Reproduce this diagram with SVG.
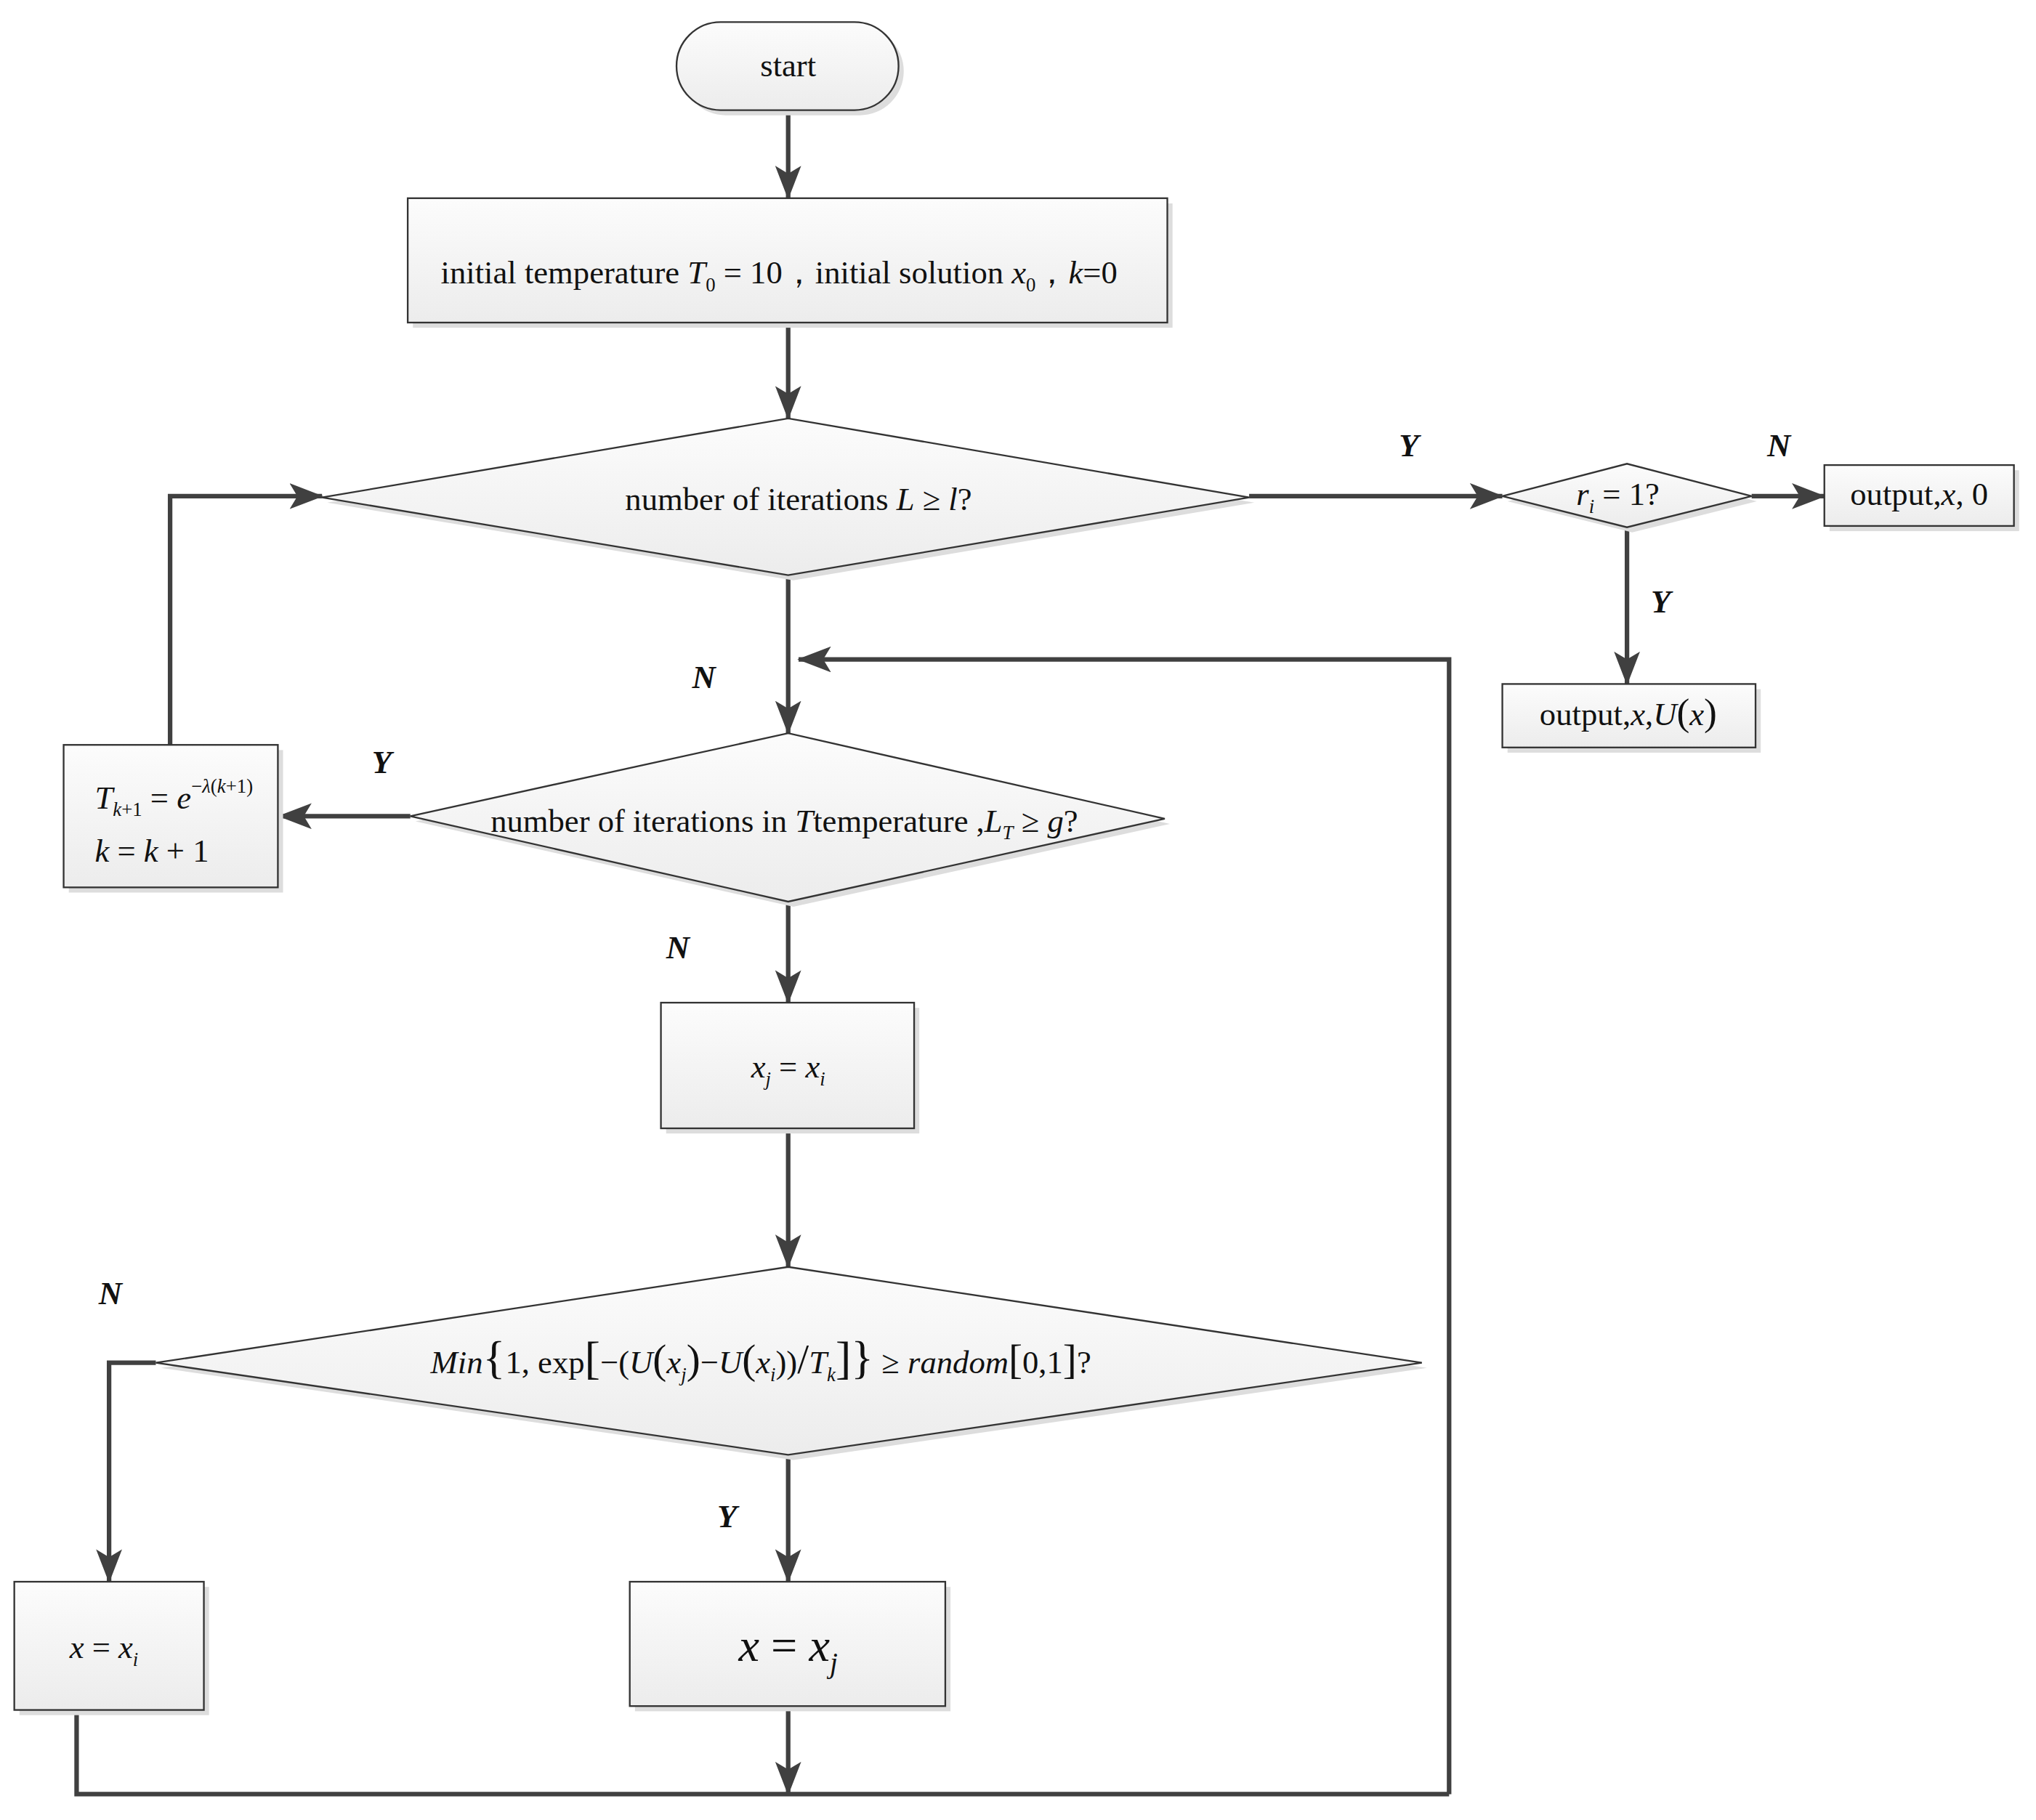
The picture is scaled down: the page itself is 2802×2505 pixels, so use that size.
<svg xmlns="http://www.w3.org/2000/svg" width="2802" height="2505" viewBox="0 0 2802 2505">
<style>
.n{fill:url(#gr);stroke:#333;stroke-width:1.3}
.sh{fill:#ddd;stroke:none}
text{font-family:"Liberation Serif",serif;font-size:25px;fill:#111}
.i{font-style:italic}
.lb{font-style:italic;font-weight:bold;font-size:25px}
.c{fill:none;stroke:#404040;stroke-width:3.5}
</style>
<defs>
<linearGradient id="gr" x1="0" y1="0" x2="0" y2="1"><stop offset="0" stop-color="#fcfcfc"/><stop offset="1" stop-color="#ececec"/></linearGradient>
<marker id="a" markerWidth="26" markerHeight="20" refX="25" refY="10" orient="auto" markerUnits="userSpaceOnUse" viewBox="0 0 26 20"><path d="M0,0 L26,10 L0,20 L6,10 z" fill="#404040"/></marker>
</defs>
<rect width="2802" height="2505" fill="#fff"/>
<g transform="scale(1.787,1.783)">
<g id="connectors">
<path class="c" d="M607,85 V153" marker-end="url(#a)"/>
<path class="c" d="M607,249 V323" marker-end="url(#a)"/>
<path class="c" d="M962,383 H1157" marker-end="url(#a)"/>
<path class="c" d="M1349,383 H1405" marker-end="url(#a)"/>
<path class="c" d="M1253,407 V528" marker-end="url(#a)"/>
<path class="c" d="M607,444 V566" marker-end="url(#a)"/>
<path class="c" d="M1116,1385 V509 H615" marker-end="url(#a)"/>
<path class="c" d="M316,630 H215" marker-end="url(#a)"/>
<path class="c" d="M131,575 V383 H248" marker-end="url(#a)"/>
<path class="c" d="M607,696 V774" marker-end="url(#a)"/>
<path class="c" d="M607,871 V978" marker-end="url(#a)"/>
<path class="c" d="M120,1052 H84 V1221" marker-end="url(#a)"/>
<path class="c" d="M607,1123 V1221" marker-end="url(#a)"/>
<path class="c" d="M607,1317 V1385" marker-end="url(#a)"/>
<path class="c" d="M59,1320 V1385 H1116"/>
<text class="lb" x="1085" y="352" text-anchor="middle">Y</text>
<text class="lb" x="1370" y="352" text-anchor="middle">N</text>
<text class="lb" x="1279" y="473" text-anchor="middle">Y</text>
<text class="lb" x="542" y="531" text-anchor="middle">N</text>
<text class="lb" x="294" y="597" text-anchor="middle">Y</text>
<text class="lb" x="522" y="740" text-anchor="middle">N</text>
<text class="lb" x="85" y="1007" text-anchor="middle">N</text>
<text class="lb" x="560" y="1179" text-anchor="middle">Y</text>
</g>
<g id="start"><rect class="sh" x="525" y="21" width="171" height="68" rx="34"/><rect class="n" x="521" y="17" width="171" height="68" rx="34"/><text x="607" y="59" text-anchor="middle">start</text></g>
<g id="init"><rect class="sh" x="318" y="157" width="585" height="96"/><rect class="n" x="314" y="153" width="585" height="96"/><text x="600" y="219" text-anchor="middle">initial temperature <tspan class="i">T</tspan><tspan font-size="15" dy="6">0</tspan><tspan dy="-6"> = 10，initial solution </tspan><tspan class="i">x</tspan><tspan font-size="15" dy="6">0</tspan><tspan dy="-6">，</tspan><tspan class="i">k</tspan>=0</text></g>
<g id="d1"><polygon class="sh" points="252,388 611,327 966,388 611,448"/><polygon class="n" points="248,384 607,323 962,384 607,444"/><text x="615" y="394" text-anchor="middle">number of iterations <tspan class="i">L</tspan> ≥ <tspan class="i">l</tspan>?</text></g>
<g id="dr"><polygon class="sh" points="1161,387 1257,362 1353,387 1257,411"/><polygon class="n" points="1157,383 1253,358 1349,383 1253,407"/><text x="1246" y="390" text-anchor="middle"><tspan class="i">r</tspan><tspan class="i" font-size="15" dy="6">i</tspan><tspan dy="-6"> = 1?</tspan></text></g>
<g id="o0"><rect class="sh" x="1409" y="363" width="146" height="47"/><rect class="n" x="1405" y="359" width="146" height="47"/><text x="1478" y="390" text-anchor="middle">output,<tspan class="i">x</tspan>, 0</text></g>
<g id="oU"><rect class="sh" x="1161" y="532" width="195" height="49"/><rect class="n" x="1157" y="528" width="195" height="49"/><text x="1254" y="560" text-anchor="middle">output,<tspan class="i">x</tspan>,<tspan class="i">U</tspan><tspan font-size="30">(</tspan><tspan class="i">x</tspan><tspan font-size="30">)</tspan></text></g>
<g id="d2"><polygon class="sh" points="320,634 611,570 901,636 611,700"/><polygon class="n" points="316,630 607,566 897,632 607,696"/><text x="604" y="642" text-anchor="middle">number of iterations in <tspan class="i">T</tspan>temperature ,<tspan class="i">L</tspan><tspan class="i" font-size="15" dy="6">T</tspan><tspan dy="-6"> ≥ </tspan><tspan class="i">g</tspan>?</text></g>
<g id="tk"><rect class="sh" x="53" y="579" width="165" height="110"/><rect class="n" x="49" y="575" width="165" height="110"/><text x="73" y="624"><tspan class="i">T</tspan><tspan class="i" font-size="15" dy="6">k</tspan><tspan font-size="15">+1</tspan><tspan dy="-6"> = </tspan><tspan class="i">e</tspan><tspan font-size="15" dy="-12">−</tspan><tspan class="i" font-size="15">λ</tspan><tspan font-size="15">(</tspan><tspan class="i" font-size="15">k</tspan><tspan font-size="15">+1)</tspan></text><text x="73" y="665"><tspan class="i">k</tspan> = <tspan class="i">k</tspan> + 1</text></g>
<g id="xj"><rect class="sh" x="513" y="778" width="195" height="97"/><rect class="n" x="509" y="774" width="195" height="97"/><text x="607" y="832" text-anchor="middle"><tspan class="i">x</tspan><tspan class="i" font-size="15" dy="6">j</tspan><tspan dy="-6"> = </tspan><tspan class="i">x</tspan><tspan class="i" font-size="15" dy="6">i</tspan></text></g>
<g id="d3"><polygon class="sh" points="124,1056 611,982 1099,1056 611,1127"/><polygon class="n" points="120,1052 607,978 1095,1052 607,1123"/><text x="586" y="1060" text-anchor="middle"><tspan class="i">Min</tspan><tspan font-size="36">{</tspan>1, exp<tspan font-size="36">[</tspan>−(<tspan class="i">U</tspan><tspan font-size="32">(</tspan><tspan class="i">x</tspan><tspan class="i" font-size="15" dy="6">j</tspan><tspan font-size="32" dy="-6">)</tspan>−<tspan class="i">U</tspan><tspan font-size="32">(</tspan><tspan class="i">x</tspan><tspan class="i" font-size="15" dy="6">i</tspan><tspan dy="-6">))</tspan><tspan font-size="32">/</tspan><tspan class="i">T</tspan><tspan class="i" font-size="15" dy="6">k</tspan><tspan font-size="36" dy="-6">]}</tspan> ≥ <tspan class="i">random</tspan><tspan font-size="32">[</tspan>0,1<tspan font-size="32">]</tspan>?</text></g>
<g id="xi"><rect class="sh" x="15" y="1225" width="146" height="99"/><rect class="n" x="11" y="1221" width="146" height="99"/><text x="80" y="1280" text-anchor="middle"><tspan class="i">x</tspan> = <tspan class="i">x</tspan><tspan class="i" font-size="15" dy="6">i</tspan></text></g>
<g id="xx"><rect class="sh" x="489" y="1225" width="243" height="96"/><rect class="n" x="485" y="1221" width="243" height="96"/><text x="607" y="1282" text-anchor="middle" style="font-size:36px"><tspan class="i">x</tspan> = <tspan class="i">x</tspan><tspan class="i" font-size="22" dy="9">j</tspan></text></g>
</g>
</svg>
